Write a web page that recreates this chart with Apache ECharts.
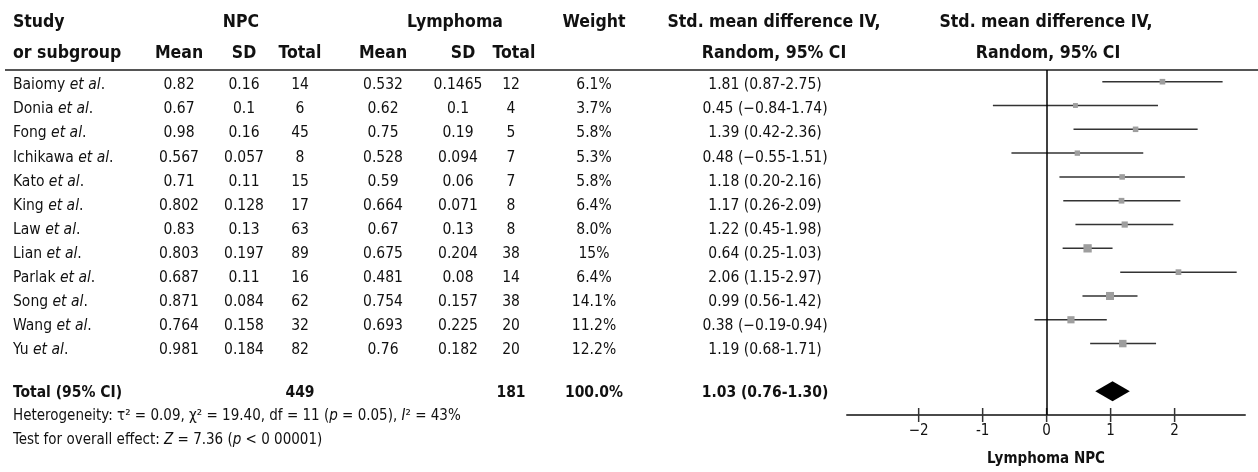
<!DOCTYPE html>
<html>
<head>
<meta charset="utf-8">
<script src="https://cdn.jsdelivr.net/npm/echarts@6/dist/echarts.min.js"></script>
<style>
  html, body { margin: 0; padding: 0; background: #fff; }
  #chart { width: 1258px; height: 472px; }
</style>
</head>
<body>
<div id="chart"></div>
<script>
// Study-level data for the forest plot
const studies   = ['Baiomy', 'Donia', 'Fong', 'Ichikawa', 'Kato', 'King', 'Law', 'Lian', 'Parlak', 'Song', 'Wang', 'Yu'];
const npcMean   = ['0.82', '0.67', '0.98', '0.567', '0.71', '0.802', '0.83', '0.803', '0.687', '0.871', '0.764', '0.981'];
const npcSD     = ['0.16', '0.1', '0.16', '0.057', '0.11', '0.128', '0.13', '0.197', '0.11', '0.084', '0.158', '0.184'];
const npcTotal  = [14, 6, 45, 8, 15, 17, 63, 89, 16, 62, 32, 82];
const lymMean   = ['0.532', '0.62', '0.75', '0.528', '0.59', '0.664', '0.67', '0.675', '0.481', '0.754', '0.693', '0.76'];
const lymSD     = ['0.1465', '0.1', '0.19', '0.094', '0.06', '0.071', '0.13', '0.204', '0.08', '0.157', '0.225', '0.182'];
const lymTotal  = [12, 4, 5, 7, 7, 8, 8, 38, 14, 38, 20, 20];
const weightPct = [6.1, 3.7, 5.8, 5.3, 5.8, 6.4, 8.0, 15, 6.4, 14.1, 11.2, 12.2];
const weightTxt = ['6.1%', '3.7%', '5.8%', '5.3%', '5.8%', '6.4%', '8.0%', '15%', '6.4%', '14.1%', '11.2%', '12.2%'];
const smd       = [1.81, 0.45, 1.39, 0.48, 1.18, 1.17, 1.22, 0.64, 2.06, 0.99, 0.38, 1.19];
const ciLow     = [0.87, -0.84, 0.42, -0.55, 0.20, 0.26, 0.45, 0.25, 1.15, 0.56, -0.19, 0.68];
const ciHigh    = [2.75, 1.74, 2.36, 1.51, 2.16, 2.09, 1.98, 1.03, 2.97, 1.42, 0.94, 1.71];

// Pooled estimate
const totalNpc    = 449;
const totalLym    = 181;
const totalWeight = '100.0%';
const totalSmd    = 1.03;
const totalLow    = 0.76;
const totalHigh   = 1.30;

// Axis ticks of the effect scale
const xTicks      = [-2, -1, 0, 1, 2];
const xTickLabels = ['\u22122', '-1', '0', '1', '2'];

const FONT = "'Liberation Sans Narrow', 'DejaVu Sans Condensed', 'Arial Narrow', sans-serif";
const INK = '#111';
const BODY = 15.5;
const HEAD = 17.5;
const NOTE = 15;

const fmt = v => (v < 0 ? '\u2212' : '') + Math.abs(v).toFixed(2);
const ciText = (m, lo, hi) => fmt(m) + ' (' + fmt(lo) + '-' + fmt(hi) + ')';

// Table text sits on a hidden grid: x in page-like units, y in row units
const ROW_HEAD1 = -2.63, ROW_HEAD2 = -1.33;
const ROW_TOTAL = 12.78, ROW_HET = 13.75, ROW_TEST = 14.75;
const rowIdx = studies.map((_, i) => i);

function textSeries(items, opts) {
  opts = opts || {};
  const size = opts.size || BODY;
  return {
    type: 'scatter',
    xAxisIndex: 0, yAxisIndex: 0,
    symbolSize: 0,
    silent: true,
    clip: false,
    itemStyle: { opacity: 1 },
    data: items.map(it => ({ value: [it[0], it[1]], name: String(it[2]) })),
    label: {
      show: true,
      position: 'inside',
      formatter: p => p.name,
      align: opts.align || 'center',
      verticalAlign: 'middle',
      fontFamily: FONT,
      fontSize: size,
      fontWeight: opts.bold ? 'bold' : 'normal',
      color: INK,
      opacity: 1,
      rich: {
        i: { fontStyle: 'italic', fontFamily: FONT, fontSize: size, color: INK }
      }
    },
    emphasis: { disabled: true }
  };
}

function column(x, values, opts) {
  return textSeries(values.map((v, i) => [x, rowIdx[i], v]), opts);
}

// Column anchors (horizontal centres, or left edge for the study names)
const COL = {
  study: 13, npcMean: 179, npcSD: 244, npcTotal: 300,
  lymMean: 383, lymSD: 458, lymTotal: 511, weight: 594, ci: 765
};

const series = [
  column(COL.study, studies.map(s => s + ' {i|et al}.'), { align: 'left' }),
  column(COL.npcMean, npcMean),
  column(COL.npcSD, npcSD),
  column(COL.npcTotal, npcTotal),
  column(COL.lymMean, lymMean),
  column(COL.lymSD, lymSD),
  column(COL.lymTotal, lymTotal),
  column(COL.weight, weightTxt),
  column(COL.ci, studies.map((_, i) => ciText(smd[i], ciLow[i], ciHigh[i]))),

  // Header rows
  textSeries([[COL.study, ROW_HEAD1, 'Study'], [COL.study, ROW_HEAD2, 'or subgroup']],
             { align: 'left', bold: true, size: HEAD }),
  textSeries([
    [241, ROW_HEAD1, 'NPC'],
    [COL.npcMean, ROW_HEAD2, 'Mean'], [COL.npcSD, ROW_HEAD2, 'SD'], [COL.npcTotal, ROW_HEAD2, 'Total'],
    [455, ROW_HEAD1, 'Lymphoma'],
    [COL.lymMean, ROW_HEAD2, 'Mean'], [463, ROW_HEAD2, 'SD'], [514, ROW_HEAD2, 'Total'],
    [COL.weight, ROW_HEAD1, 'Weight'],
    [774, ROW_HEAD1, 'Std. mean difference IV,'], [774, ROW_HEAD2, 'Random, 95% CI'],
    [1046, ROW_HEAD1, 'Std. mean difference IV,'], [1048, ROW_HEAD2, 'Random, 95% CI']
  ], { bold: true, size: HEAD }),

  // Pooled row
  textSeries([[COL.study, ROW_TOTAL, 'Total (95% CI)']], { align: 'left', bold: true }),
  textSeries([
    [COL.npcTotal, ROW_TOTAL, totalNpc],
    [COL.lymTotal, ROW_TOTAL, totalLym],
    [COL.weight, ROW_TOTAL, totalWeight],
    [COL.ci, ROW_TOTAL, ciText(totalSmd, totalLow, totalHigh)]
  ], { bold: true }),

  // Footnotes
  textSeries([
    [COL.study, ROW_HET, 'Heterogeneity: \u03c4\u00b2 = 0.09, \u03c7\u00b2 = 19.40, df = 11 ({i|p} = 0.05), {i|I}\u00b2 = 43%'],
    [COL.study, ROW_TEST, 'Test for overall effect: {i|Z} = 7.36 ({i|p} < 0 00001)']
  ], { align: 'left', size: NOTE }),

  // Header rule
  {
    type: 'scatter', xAxisIndex: 0, yAxisIndex: 0, data: [], silent: true,
    markLine: {
      silent: true, symbol: 'none', label: { show: false },
      lineStyle: { color: '#555', width: 2, type: 'solid' },
      data: [[{ coord: [5, -0.64] }, { coord: [1258, -0.64] }]]
    }
  },

  // Study estimates: confidence interval and weighted square
  {
    type: 'custom',
    xAxisIndex: 1, yAxisIndex: 1,
    silent: true,
    data: studies.map((_, i) => [ciLow[i], ciHigh[i], smd[i], i, weightPct[i]]),
    encode: { x: [0, 1, 2], y: 3 },
    renderItem: (params, api) => {
      const y = api.value(3);
      const lo = api.coord([api.value(0), y]);
      const hi = api.coord([api.value(1), y]);
      const mid = api.coord([api.value(2), y]);
      const s = 3.8 + 0.3 * api.value(4);
      return {
        type: 'group',
        children: [
          { type: 'line', shape: { x1: lo[0], y1: lo[1], x2: hi[0], y2: hi[1] },
            style: { stroke: '#333', lineWidth: 1.5 } },
          { type: 'rect', shape: { x: mid[0] - s / 2, y: mid[1] - s / 2, width: s, height: s },
            style: { fill: '#9e9e9e' } }
        ]
      };
    },
    markLine: {
      silent: true, symbol: 'none', label: { show: false },
      lineStyle: { color: '#000', width: 1.5, type: 'solid' },
      data: [{ xAxis: 0 }]
    }
  },

  // Pooled estimate diamond
  {
    type: 'custom',
    xAxisIndex: 1, yAxisIndex: 1,
    silent: true,
    data: [[totalLow, totalHigh, totalSmd, 13]],
    encode: { x: [0, 1, 2], y: 3 },
    renderItem: (params, api) => {
      const y = api.value(3);
      const l = api.coord([api.value(0), y]);
      const r = api.coord([api.value(1), y]);
      const m = api.coord([api.value(2), y]);
      const h = 10;
      return {
        type: 'polygon',
        shape: { points: [[l[0], l[1]], [m[0], m[1] - h], [r[0], r[1]], [m[0], m[1] + h]] },
        style: { fill: '#000' }
      };
    }
  },

  // Tick marks crossing the effect axis
  {
    type: 'scatter',
    xAxisIndex: 1, yAxisIndex: 1,
    silent: true,
    clip: false,
    symbol: 'rect',
    symbolSize: [1.5, 14],
    itemStyle: { color: '#333', opacity: 1 },
    data: xTicks.map(t => [t, 14])
  }
];

const chart = echarts.init(document.getElementById('chart'), null, { renderer: 'canvas' });
chart.setOption({
  animation: false,
  backgroundColor: '#fff',
  grid: [
    { left: 0, right: 0, top: 0, bottom: 0 },          // table text
    { left: 847, right: 13, top: 70, bottom: 57 }      // forest panel
  ],
  xAxis: [
    { gridIndex: 0, type: 'value', min: 0, max: 1258, show: false },
    {
      gridIndex: 1, type: 'value', min: -3.12, max: 3.1, position: 'bottom',
      axisLine: { show: true, onZero: false, lineStyle: { color: '#4a4a4a', width: 2 } },
      axisTick: { show: false },
      axisLabel: {
        show: true, customValues: xTicks, margin: 9,
        formatter: v => xTickLabels[xTicks.indexOf(v)],
        fontFamily: FONT, fontSize: 15, color: INK
      },
      splitLine: { show: false },
      name: 'Lymphoma NPC', nameLocation: 'middle', nameGap: 37,
      nameTextStyle: { fontFamily: FONT, fontSize: 15, fontWeight: 'bold', color: INK }
    }
  ],
  yAxis: [
    { gridIndex: 0, type: 'value', inverse: true, min: -3.545, max: 16.07, show: false },
    { gridIndex: 1, type: 'value', inverse: true, min: -0.4916, max: 14.0, show: false }
  ],
  series: series
});
</script>
</body>
</html>
